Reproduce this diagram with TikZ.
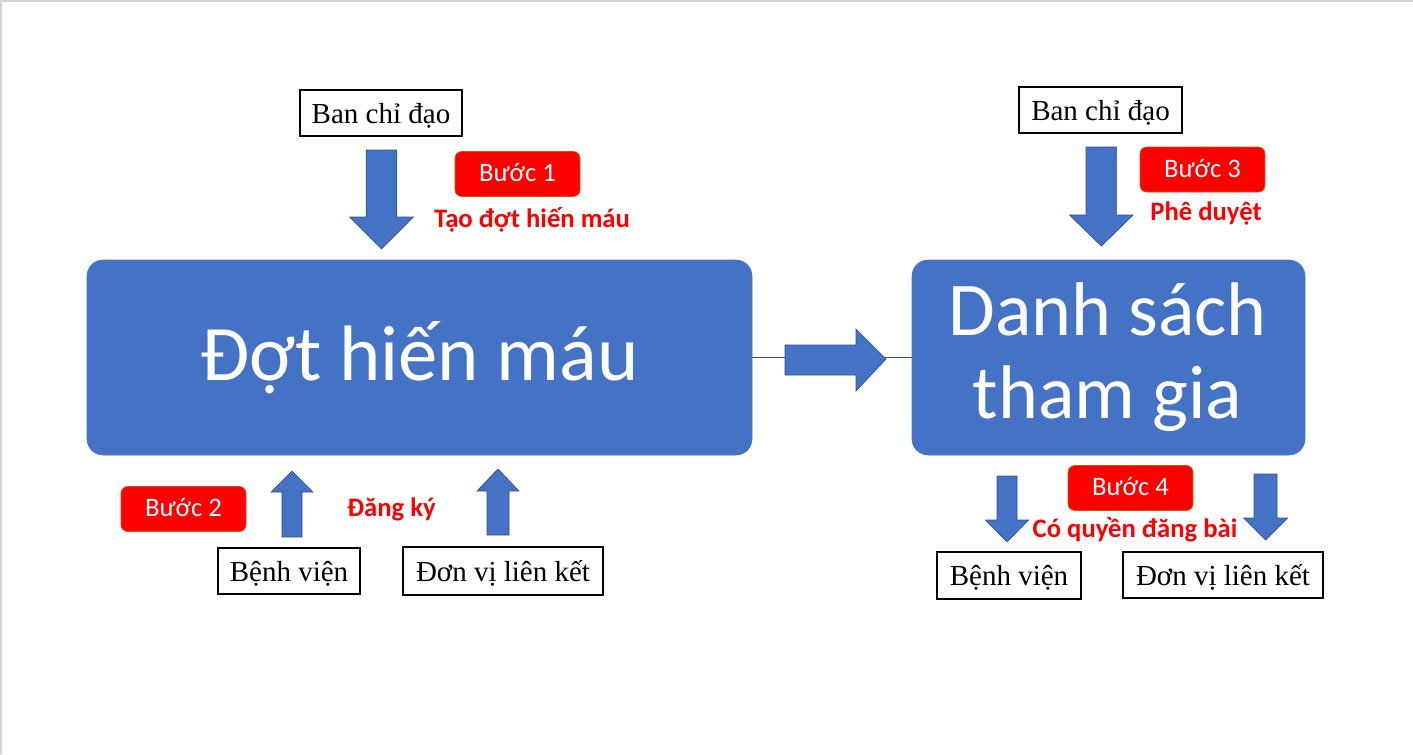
\documentclass[tikz,border=0pt]{standalone}
\usepackage{fontspec}
\setmainfont{Liberation Serif}
\newfontfamily\calibri{Carlito}

\definecolor{boxblue}{RGB}{68,114,196}
\definecolor{edgeblue}{RGB}{47,82,143}
\definecolor{badgered}{RGB}{255,0,0}
\definecolor{badgeedge}{RGB}{197,90,17}
\definecolor{framegray}{RGB}{212,212,212}

% block arrow: x, base y, neck y, tip y, body half width, head half width
\newcommand{\blkarrow}[6]{%
  \draw [blockarrow] (#1-#5,#2) -- (#1-#5,#3) -- (#1-#6,#3) -- (#1,#4) -- (#1+#6,#3) -- (#1+#5,#3) -- (#1+#5,#2) -- cycle ;}

\begin{document}
\begin{tikzpicture}[x=0.75pt,y=0.75pt,yscale=-1,xscale=1,
  serifbox/.style={draw, line width=0.9pt, fill=white, inner sep=0pt, font=\fontsize{21.75}{26}\selectfont, text height=15pt, text depth=0pt},
  badge/.style={fill=badgered, draw=badgeedge, line width=0.5pt, rounded corners=5pt, minimum width=93.75pt, minimum height=33.75pt, inner sep=0pt, text=white, font=\calibri\fontsize{20}{24}\selectfont, text height=11.5pt, text depth=0pt},
  bigbox/.style={fill=boxblue, draw=boxblue, rounded corners=12pt, minimum height=146.25pt, inner sep=0pt, text=white},
  steplabel/.style={anchor=base, inner sep=0pt, text=badgered, font=\calibri\bfseries\fontsize{20}{24}\selectfont},
  bigtext/.style={anchor=base, inner sep=0pt, text=white, font=\calibri\fontsize{57}{66}\selectfont},
  blockarrow/.style={fill=boxblue, draw=edgeblue, line width=0.5pt}]
\useasboundingbox (0,0) rectangle (1413,754);
%page edge
\draw [framegray, line width=1.5pt] (1,754) -- (1,1) -- (1413,1) ;

%Shape: Rounded Rect
\node [bigbox, minimum width=498.75pt, text height=33.75pt, text depth=0pt, font=\calibri\fontsize{59}{68}\selectfont] (dhm) at (419.5,357.5) {Đợt hiến máu};
%Shape: Rounded Rect
\node [bigbox, minimum width=294.75pt] (dst) at (1108.5,357.5) {};
% Text Node
\node [bigtext] (dst1) at (1107.5,335) {Danh sách};
% Text Node
\node [bigtext] (dst2) at (1107.5,418) {tham gia};

%Straight Lines
\draw [edgeblue, line width=0.6pt] (dhm.east) -- (dst.west) ;
%Shape: Right Arrow
\draw [blockarrow] (785,345) -- (856,345) -- (856,329) -- (886,359) -- (856,391) -- (856,375) -- (785,375) -- cycle ;

%Shape: Rectangle
\node [serifbox, minimum width=121.5pt, minimum height=34.5pt] (bcd1) at (381,113) {Ban chỉ đạo};
\node [serifbox, minimum width=122.25pt, minimum height=34.5pt] (bcd2) at (1100.5,110) {Ban chỉ đạo};
\node [serifbox, minimum width=106.5pt, minimum height=34.5pt] (bv1) at (289,571) {Bệnh viện};
\node [serifbox, minimum width=150pt, minimum height=36pt] (dv1) at (503,571) {Đơn vị liên kết};
\node [serifbox, minimum width=108pt, minimum height=35.25pt] (bv2) at (1009,575.5) {Bệnh viện};
\node [serifbox, minimum width=150pt, minimum height=34.5pt] (dv2) at (1223,575) {Đơn vị liên kết};

%Shape: Block Arrows
\blkarrow{381.5}{150}{217}{249}{15.3}{31.8}
\blkarrow{1101.3}{147}{215}{246}{15.3}{31.8}
\blkarrow{292}{537}{492}{471}{10}{21}
\blkarrow{498}{535}{491}{469}{11}{21}
\blkarrow{1007}{476}{520}{542}{10}{21.5}
\blkarrow{1265.5}{474}{518}{540}{11.5}{22}

%Shape: Badges
\node [badge] (b1) at (517.5,174) {Bước 1};
\node [badge] (b2) at (183.5,509) {Bước 2};
\node [badge] (b3) at (1202.5,169.5) {Bước 3};
\node [badge] (b4) at (1130.5,488) {Bước 4};

% Text Node
\node [steplabel] (tao) at (532,227) {Tạo đợt hiến máu};
\node [steplabel] (duyet) at (1206,220) {Phê duyệt};
\node [steplabel] (dangky) at (391.5,516) {Đăng ký};
\node [steplabel] (quyen) at (1135,537) {Có quyền đăng bài};

\end{tikzpicture}
\end{document}
